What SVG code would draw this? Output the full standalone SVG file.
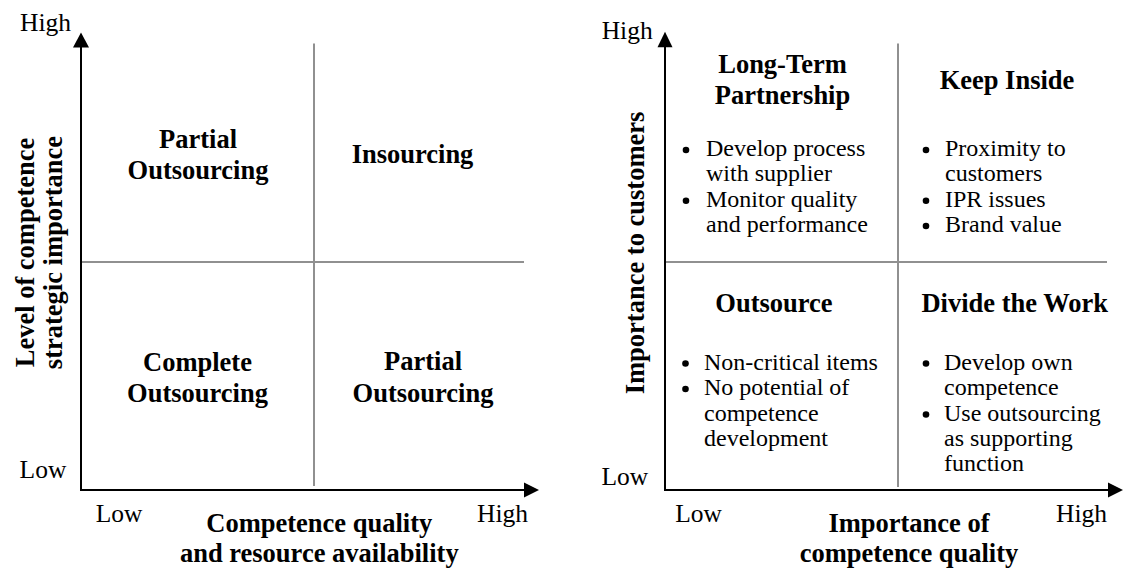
<svg xmlns="http://www.w3.org/2000/svg" width="1125" height="570" viewBox="0 0 1125 570">
<style>
text{font-family:"Liberation Serif","Times New Roman",serif;fill:#000}
.t{font-size:26.5px;font-weight:bold;text-anchor:middle}
.a{font-size:25.5px}
.b{font-size:24px}
.dot{fill:#000}
.ax{stroke:#000;stroke-width:2;fill:none}
.dv{stroke:#909090;stroke-width:2;fill:none}
</style>
<rect width="1125" height="570" fill="#fff"/>
<g id="connectors">
  <line class="dv" x1="314" y1="43.5" x2="314" y2="486"/>
  <line class="dv" x1="81" y1="262" x2="524" y2="262"/>
  <line class="dv" x1="898" y1="43.5" x2="898" y2="487"/>
  <line class="dv" x1="665" y1="262" x2="1107" y2="262"/>
  <polyline class="ax" points="81,46 81,490 525,490"/>
  <polygon points="81,32.5 73,47.5 89,47.5" fill="#000"/>
  <polygon points="539,490 524,482.5 524,497.5" fill="#000"/>
  <polyline class="ax" points="665,46 665,490 1109,490"/>
  <polygon points="665,31.7 657.5,47.3 672.5,47.3" fill="#000"/>
  <polygon points="1123,490 1108,482.5 1108,497.5" fill="#000"/>
</g>
<g id="left-axes">
  <text class="a" x="20" y="30.5">High</text>
  <text class="a" x="19.6" y="477.7">Low</text>
  <text class="a" x="95.7" y="521.7">Low</text>
  <text class="a" x="477" y="521.7">High</text>
  <text class="t" x="319.3" y="532">Competence quality</text>
  <text class="t" x="319.3" y="562">and resource availability</text>
  <text class="t" transform="translate(34,252.5) rotate(-90)">Level of competence</text>
  <text class="t" transform="translate(62,252.5) rotate(-90)">strategic importance</text>
</g>
<g id="q-partial-top">
  <text class="t" x="198" y="148">Partial</text>
  <text class="t" x="198" y="179">Outsourcing</text>
</g>
<g id="q-insourcing">
  <text class="t" x="412.5" y="163">Insourcing</text>
</g>
<g id="q-complete">
  <text class="t" x="197.5" y="370.7">Complete</text>
  <text class="t" x="197.5" y="401.7">Outsourcing</text>
</g>
<g id="q-partial-bottom">
  <text class="t" x="423" y="370">Partial</text>
  <text class="t" x="423" y="401.7">Outsourcing</text>
</g>
<g id="right-axes">
  <text class="a" x="601.7" y="39.3">High</text>
  <text class="a" x="601.4" y="485">Low</text>
  <text class="a" x="675.3" y="522">Low</text>
  <text class="a" x="1056" y="521.7">High</text>
  <text class="t" x="909" y="532">Importance of</text>
  <text class="t" x="909" y="562">competence quality</text>
  <text class="t" transform="translate(644,253) rotate(-90)">Importance to customers</text>
</g>
<g id="q-longterm">
  <text class="t" x="782.5" y="73.3">Long-Term</text>
  <text class="t" x="782.5" y="104">Partnership</text>
  <circle class="dot" cx="686" cy="150" r="3.3"/>
  <text class="b" x="706" y="156">Develop process</text>
  <text class="b" x="706" y="181">with supplier</text>
  <circle class="dot" cx="686" cy="200.7" r="3.3"/>
  <text class="b" x="706" y="206.7">Monitor quality</text>
  <text class="b" x="706" y="232">and performance</text>
</g>
<g id="q-keepinside">
  <text class="t" x="1007" y="89">Keep Inside</text>
  <circle class="dot" cx="926" cy="150" r="3.3"/>
  <text class="b" x="945" y="156">Proximity to</text>
  <text class="b" x="945" y="181">customers</text>
  <circle class="dot" cx="926" cy="200.7" r="3.3"/>
  <text class="b" x="945" y="206.7">IPR issues</text>
  <circle class="dot" cx="926" cy="226" r="3.3"/>
  <text class="b" x="945" y="232">Brand value</text>
</g>
<g id="q-outsource">
  <text class="t" x="774" y="312.3">Outsource</text>
  <circle class="dot" cx="685.5" cy="363.5" r="3.3"/>
  <text class="b" x="704" y="369.5">Non-critical items</text>
  <circle class="dot" cx="685.5" cy="389" r="3.3"/>
  <text class="b" x="704" y="395">No potential of</text>
  <text class="b" x="704" y="420.5">competence</text>
  <text class="b" x="704" y="446">development</text>
</g>
<g id="q-divide">
  <text class="t" x="1014.7" y="311.7">Divide the Work</text>
  <circle class="dot" cx="926" cy="363.5" r="3.3"/>
  <text class="b" x="944" y="369.5">Develop own</text>
  <text class="b" x="944" y="394.5">competence</text>
  <circle class="dot" cx="926" cy="414.5" r="3.3"/>
  <text class="b" x="944" y="420.5">Use outsourcing</text>
  <text class="b" x="944" y="446">as supporting</text>
  <text class="b" x="944" y="471">function</text>
</g>
</svg>
